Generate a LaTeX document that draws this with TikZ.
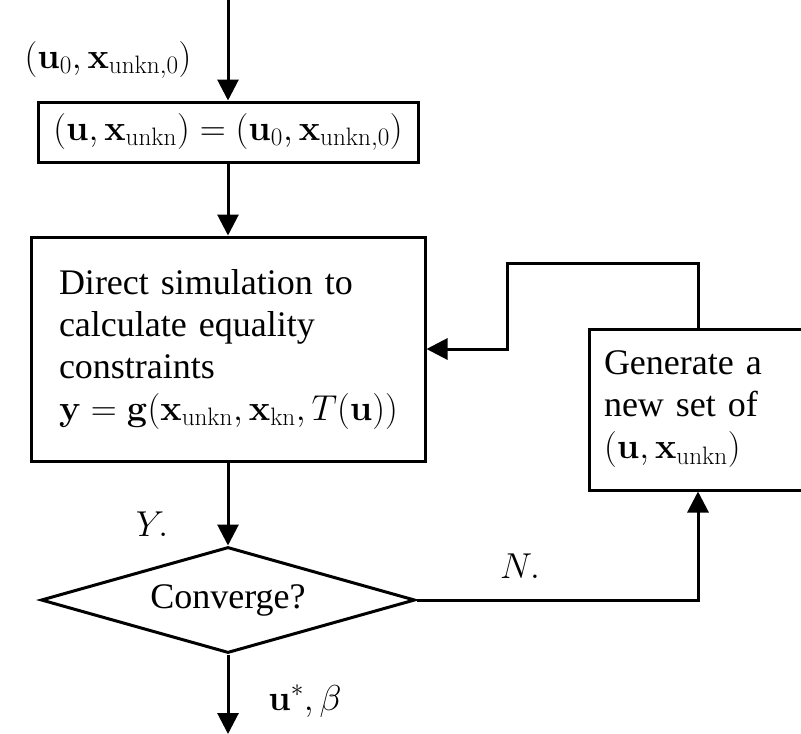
\RequirePackage{fix-cm}
\documentclass[tikz,border=0pt]{standalone}
\usepackage[no-math]{fontspec}
\setmainfont{Liberation Serif}
\usetikzlibrary{arrows.meta,shapes.geometric}
\tikzset{
  box/.style={draw,line width=3pt,rectangle,inner sep=0pt},
  txtbox/.style={box,align=left},
  arr/.style={line width=3pt,-{Triangle[length=21pt,width=21pt]}},
  lbl/.style={inner sep=0pt}
}
\begin{document}
\begin{tikzpicture}[x=1pt,y=-1pt,font=\fontsize{36}{42}\selectfont]
\useasboundingbox (0,0) rectangle (801,734);
\clip (0,0) rectangle (801,734);
\coordinate (start) at (228,0);
\node[box,minimum width=380pt,minimum height=60pt] (init) at (228,132)
  {$(\mathbf{u},\mathbf{x}_{\mathrm{unkn}}) = (\mathbf{u}_0,\mathbf{x}_{\mathrm{unkn},0})$};
\node[txtbox,minimum width=394pt,minimum height=224pt,text width=338pt] (main) at (228,349)
  {Direct simulation to\\calculate equality\\constraints\\
   \mbox{$\mathbf{y} = \mathbf{g}(\mathbf{x}_{\mathrm{unkn}},\mathbf{x}_{\mathrm{kn}},T(\mathbf{u}))$}};
\node[draw,line width=3pt,diamond,shape aspect=3.5,inner sep=0pt,minimum width=374pt,minimum height=106pt] (dia) at (228,600) {Converge?};
\node[txtbox,minimum width=218pt,minimum height=161pt,text width=188pt] (gen) at (698,409.5)
  {Generate a\\new set of\\$(\mathbf{u},\mathbf{x}_{\mathrm{unkn}})$};
\coordinate (stop) at (228,734);
\coordinate (c1) at (507,263);
\node[lbl] (l0) at (108,60) {$(\mathbf{u}_0,\mathbf{x}_{\mathrm{unkn},0})$};
\node[lbl] (ly) at (152,524) {$Y.$};
\node[lbl] (ln) at (520,566) {$N.$};
\node[lbl] (lu) at (305,701) {$\mathbf{u}^*,\beta$};
\draw[arr] (start) -- (init.north);
\draw[arr] (init.south) -- (main.north);
\draw[arr] (main.south) -- (dia.north);
\draw[arr] (dia.south) -- (stop);
\draw[arr] (dia.east) -| (gen.south);
\draw[arr] (gen.north) |- (c1) |- (main.east);
\end{tikzpicture}
\end{document}
